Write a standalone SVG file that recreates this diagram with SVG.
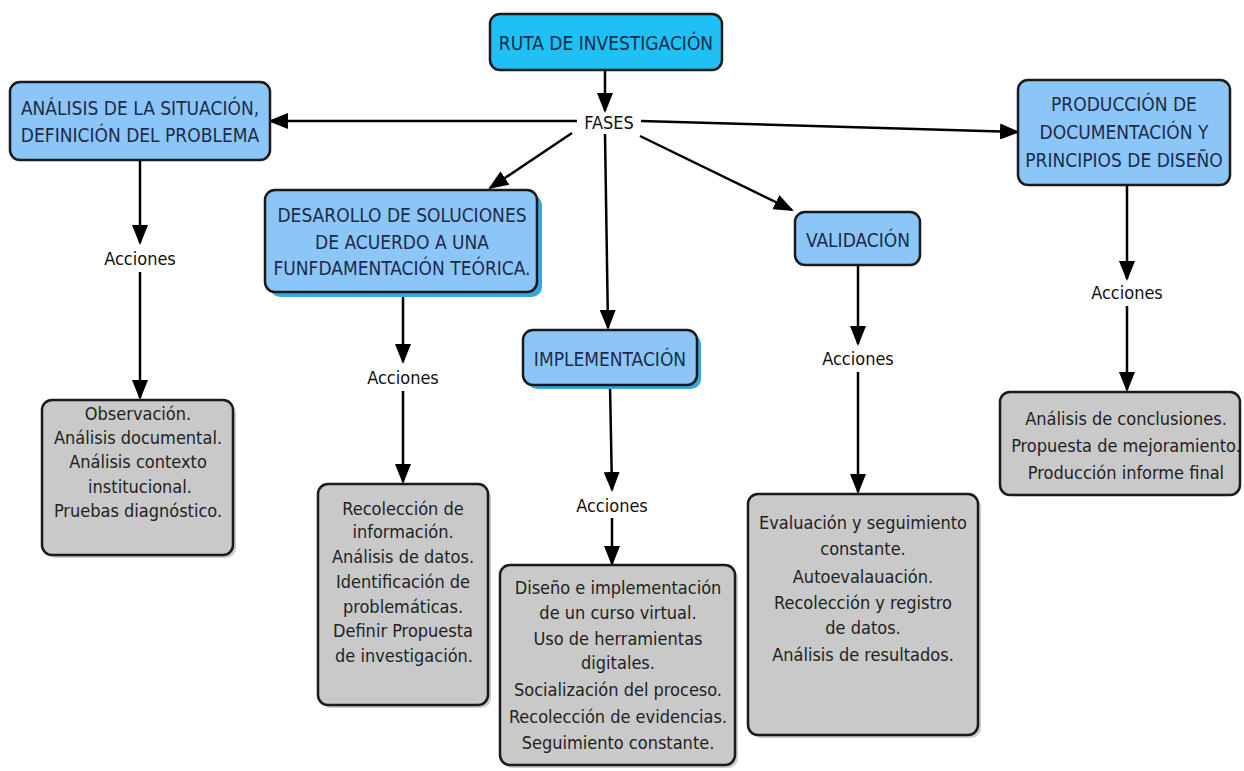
<svg xmlns="http://www.w3.org/2000/svg" width="1244" height="771" viewBox="0 0 1244 771">
<defs>
<marker id="ah" markerUnits="userSpaceOnUse" markerWidth="20" markerHeight="16" refX="18" refY="8" orient="auto" viewBox="0 0 20 16">
<path d="M0,0 L20,8 L0,16 Z" fill="#000"/>
</marker>
</defs>
<style>
.node{stroke:#1a1a1a;stroke-width:2.5}
.root{fill:#1fc1f4}
.blue{fill:#8cc6f8}
.gray{fill:#c9c9c9}
.shb{fill:#3aa6e0}
.shg{fill:#9a9a9a;opacity:0.5}
.t{font-family:"DejaVu Sans Condensed","DejaVu Sans",sans-serif;text-anchor:middle;dominant-baseline:central}
.tb{font-size:19px;fill:#1c2b4a}
.tg{font-size:18px;fill:#222}
.tl{font-size:18px;fill:#111}
.c{stroke:#000;stroke-width:2.5;fill:none}
.ca{stroke:#000;stroke-width:2.5;fill:none;marker-end:url(#ah)}
</style>
<rect width="1244" height="771" fill="#fff"/>
<g id="connectors">
<line class="ca" x1="605" y1="70" x2="605" y2="111"/>
<line class="ca" x1="577" y1="121" x2="270" y2="121"/>
<line class="ca" x1="641" y1="121" x2="1018" y2="132"/>
<line class="ca" x1="572" y1="133" x2="490" y2="188"/>
<line class="ca" x1="605" y1="134" x2="608" y2="328"/>
<line class="ca" x1="640" y1="136" x2="792" y2="210"/>
<line class="ca" x1="140" y1="160" x2="140" y2="243"/>
<line class="ca" x1="140" y1="272" x2="140" y2="398"/>
<line class="ca" x1="403" y1="292" x2="403" y2="362"/>
<line class="ca" x1="403" y1="391" x2="403" y2="482"/>
<line class="ca" x1="610" y1="385" x2="612" y2="490"/>
<line class="ca" x1="612" y1="518" x2="612" y2="564"/>
<line class="ca" x1="858" y1="265" x2="858" y2="344"/>
<line class="ca" x1="858" y1="372" x2="858" y2="492"/>
<line class="ca" x1="1127" y1="185" x2="1127" y2="279"/>
<line class="ca" x1="1127" y1="306" x2="1127" y2="390"/>
</g>
<g id="root">
<rect class="node root" x="490" y="14" width="232" height="56" rx="10"/>
<text class="t tb" x="606" y="43">RUTA DE INVESTIGACIÓN</text>
</g>
<g id="fases">
<text class="t tl" x="609" y="122">FASES</text>
</g>
<g id="analisis">
<rect class="node blue" x="10" y="82" width="260" height="78" rx="10"/>
<text class="t tb" x="140" y="108">ANÁLISIS DE LA SITUACIÓN,</text>
<text class="t tb" x="140" y="135">DEFINICIÓN DEL PROBLEMA</text>
</g>
<g id="desarrollo">
<rect class="shb" x="270" y="195" width="272" height="102" rx="10"/>
<rect class="node blue" x="265" y="190" width="272" height="102" rx="10"/>
<text class="t tb" x="402" y="215">DESAROLLO DE SOLUCIONES</text>
<text class="t tb" x="402" y="242">DE ACUERDO A UNA</text>
<text class="t tb" x="402" y="268">FUNFDAMENTACIÓN TEÓRICA.</text>
</g>
<g id="implementacion">
<rect class="shb" x="527" y="334" width="174" height="55" rx="10"/>
<rect class="node blue" x="523" y="330" width="174" height="55" rx="10"/>
<text class="t tb" x="610" y="359">IMPLEMENTACIÓN</text>
</g>
<g id="validacion">
<rect class="node blue" x="795" y="212" width="125" height="53" rx="10"/>
<text class="t tb" x="858" y="240">VALIDACIÓN</text>
</g>
<g id="produccion">
<rect class="node blue" x="1018" y="80" width="212" height="105" rx="10"/>
<text class="t tb" x="1124" y="104">PRODUCCIÓN DE</text>
<text class="t tb" x="1124" y="132">DOCUMENTACIÓN Y</text>
<text class="t tb" x="1124" y="160">PRINCIPIOS DE DISEÑO</text>
</g>
<g id="acciones1"><text class="t tl" x="140" y="258">Acciones</text></g>
<g id="acciones2"><text class="t tl" x="403" y="377">Acciones</text></g>
<g id="acciones3"><text class="t tl" x="612" y="505">Acciones</text></g>
<g id="acciones4"><text class="t tl" x="858" y="358">Acciones</text></g>
<g id="acciones5"><text class="t tl" x="1127" y="292">Acciones</text></g>
<g id="box1">
<rect class="shg" x="45" y="403" width="191" height="155" rx="10"/>
<rect class="node gray" x="42" y="400" width="191" height="155" rx="10"/>
<text class="t tg" x="138" y="413">Observación.</text>
<text class="t tg" x="138" y="437">Análisis documental.</text>
<text class="t tg" x="138" y="461">Análisis contexto</text>
<text class="t tg" x="140" y="486">institucional.</text>
<text class="t tg" x="138" y="510">Pruebas diagnóstico.</text>
</g>
<g id="box2">
<rect class="shg" x="321" y="487" width="170" height="221" rx="10"/>
<rect class="node gray" x="318" y="484" width="170" height="221" rx="10"/>
<text class="t tg" x="403" y="508">Recolección de</text>
<text class="t tg" x="403" y="531">información.</text>
<text class="t tg" x="403" y="556">Análisis de datos.</text>
<text class="t tg" x="403" y="581">Identificación de</text>
<text class="t tg" x="403" y="606">problemáticas.</text>
<text class="t tg" x="403" y="630">Definir Propuesta</text>
<text class="t tg" x="404" y="655">de investigación.</text>
</g>
<g id="box3">
<rect class="shg" x="503" y="568" width="235" height="200" rx="10"/>
<rect class="node gray" x="500" y="565" width="235" height="200" rx="10"/>
<text class="t tg" x="618" y="587">Diseño e implementación</text>
<text class="t tg" x="618" y="612">de un curso virtual.</text>
<text class="t tg" x="618" y="638">Uso de herramientas</text>
<text class="t tg" x="618" y="662">digitales.</text>
<text class="t tg" x="618" y="689">Socialización del proceso.</text>
<text class="t tg" x="618" y="716">Recolección de evidencias.</text>
<text class="t tg" x="618" y="742">Seguimiento constante.</text>
</g>
<g id="box4">
<rect class="shg" x="751" y="497" width="230" height="241" rx="10"/>
<rect class="node gray" x="748" y="494" width="230" height="241" rx="10"/>
<text class="t tg" x="863" y="522">Evaluación y seguimiento</text>
<text class="t tg" x="863" y="548">constante.</text>
<text class="t tg" x="863" y="576">Autoevalauación.</text>
<text class="t tg" x="863" y="602">Recolección y registro</text>
<text class="t tg" x="863" y="627">de datos.</text>
<text class="t tg" x="863" y="654">Análisis de resultados.</text>
</g>
<g id="box5">
<rect class="node gray" x="1000" y="392" width="240" height="103" rx="10"/>
<text class="t tg" x="1126" y="418">Análisis de conclusiones.</text>
<text class="t tg" x="1126" y="445">Propuesta de mejoramiento.</text>
<text class="t tg" x="1126" y="472">Producción informe final</text>
</g>
</svg>
